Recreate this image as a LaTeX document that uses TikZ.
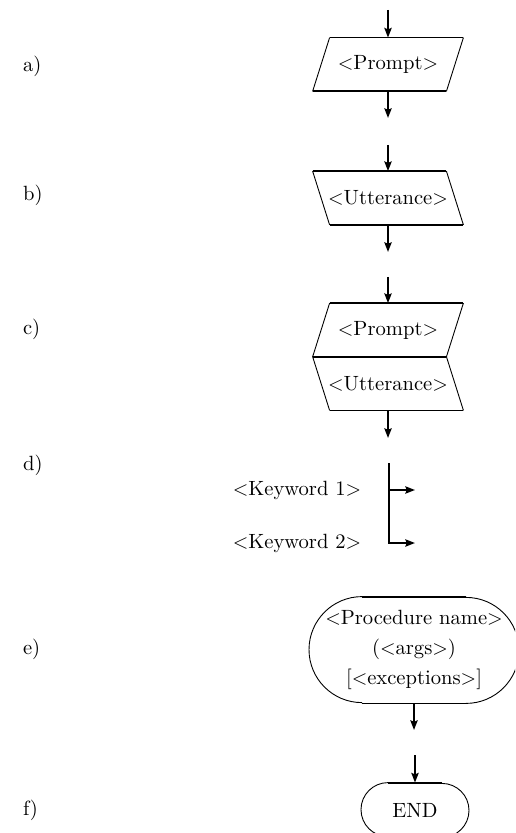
\documentclass[tikz,border=0pt]{standalone}
\usepackage{tikz}
\usetikzlibrary{arrows.meta,calc}
% edges of the two input/output boxes, given the node name
\newcommand{\promptshape}[1]{%
  \draw[edge] ($(#1.north west)+(17,0)$) -- (#1.north east);
  \draw[edge] (#1.south west) -- ($(#1.south east)+(-17,0)$);
  \draw[slant] ($(#1.north west)+(17,0)$) -- (#1.south west);
  \draw[slant] (#1.north east) -- ($(#1.south east)+(-17,0)$);}
\newcommand{\uttershape}[1]{%
  \draw[edge] (#1.north west) -- ($(#1.north east)+(-17,0)$);
  \draw[edge] ($(#1.south west)+(17,0)$) -- (#1.south east);
  \draw[slant] (#1.north west) -- ($(#1.south west)+(17,0)$);
  \draw[slant] ($(#1.north east)+(-17,0)$) -- (#1.south east);}

\begin{document}
\begin{tikzpicture}[x=0.5pt,y=-0.5pt,
  every node/.style={font=\fontsize{10.3pt}{12pt}\selectfont},
  flow/.style={line width=1pt,-{Stealth[length=4.8pt,width=3.6pt,inset=0.7pt]}},
  edge/.style={line width=0.9pt},
  slant/.style={line width=0.45pt},
  iobox/.style={minimum width=75pt,minimum height=26.5pt,inner sep=0pt},
  tag/.style={anchor=west}]
  \clip (0,0) rectangle (515,833);
  % a) prompt
  \node[tag] (la) at (16,66) {a)};
  \node[iobox] (pr) at (388,64.5) {$<$Prompt$>$};
  \promptshape{pr}
  \coordinate (pr-in) at (388,10);
  \coordinate (pr-out) at (388,118);
  \draw[flow] (pr-in) -- (pr.north);
  \draw[flow] (pr.south) -- (pr-out);
  % b) utterance
  \node[tag] (lb) at (16,195) {b)};
  \node[iobox] (ut) at (388,198) {$<$Utterance$>$};
  \uttershape{ut}
  \coordinate (ut-in) at (388,145);
  \coordinate (ut-out) at (388,252);
  \draw[flow] (ut-in) -- (ut.north);
  \draw[flow] (ut.south) -- (ut-out);
  % c) prompt and utterance
  \node[tag] (lc) at (16,329) {c)};
  \node[iobox] (pr2) at (388,330) {$<$Prompt$>$};
  \node[iobox] (ut2) at (388,383.5) {$<$Utterance$>$};
  \promptshape{pr2}
  \uttershape{ut2}
  \coordinate (pu-in) at (388,277);
  \coordinate (pu-out) at (388,438);
  \draw[flow] (pu-in) -- (pr2.north);
  \draw[flow] (ut2.south) -- (pu-out);
  % d) keywords
  \node[tag] (ld) at (16,465) {d)};
  \node (kw1) at (297,490) {$<$Keyword 1$>$};
  \node (kw2) at (297,543) {$<$Keyword 2$>$};
  \coordinate (kw-top) at (389,463);
  \coordinate (kw-mid) at (389,490);
  \coordinate (kw-bot) at (389,543);
  \coordinate (kw-out1) at (415,490);
  \coordinate (kw-out2) at (415,543);
  \draw[flow] (kw-top) -- (kw-bot) -- (kw-out2);
  \draw[flow] (kw-mid) -- (kw-out1);
  % e) procedure call
  \node[tag] (le) at (16,649) {e)};
  \node[inner sep=0pt,minimum width=105pt,minimum height=53pt,align=center,
    font=\fontsize{10.3pt}{15pt}\selectfont] (proc) at (414,650)
    {$<$Procedure name$>$\\($<$args$>$)\\{}[$<$exceptions$>$]};
  \draw[edge] ($(proc.north)+(-52,0)$) -- ($(proc.north)+(52,0)$);
  \draw[edge] ($(proc.south)+(-52,0)$) -- ($(proc.south)+(52,0)$);
  \draw[slant] ($(proc.north)+(-52,0)$) arc[start angle=90,end angle=270,radius=26.5pt];
  \draw[slant] ($(proc.south)+(52,0)$) arc[start angle=-90,end angle=90,radius=26.5pt];
  \coordinate (proc-out) at (414,730);
  \draw[flow] (proc.south) -- (proc-out);
  % f) end
  \node[tag] (lf) at (16,810) {f)};
  \node[inner sep=0pt,minimum width=54pt,minimum height=27pt] (fin) at (415,810) {END};
  \draw[edge] ($(fin.north)+(-27,0)$) -- ($(fin.north)+(27,0)$);
  \draw[edge] ($(fin.south)+(-27,0)$) -- ($(fin.south)+(27,0)$);
  \draw[slant] ($(fin.north)+(-27,0)$) arc[start angle=90,end angle=270,radius=13.5pt];
  \draw[slant] ($(fin.south)+(27,0)$) arc[start angle=-90,end angle=90,radius=13.5pt];
  \coordinate (fin-in) at (415,755);
  \draw[flow] (fin-in) -- (fin.north);
\end{tikzpicture}
\end{document}
